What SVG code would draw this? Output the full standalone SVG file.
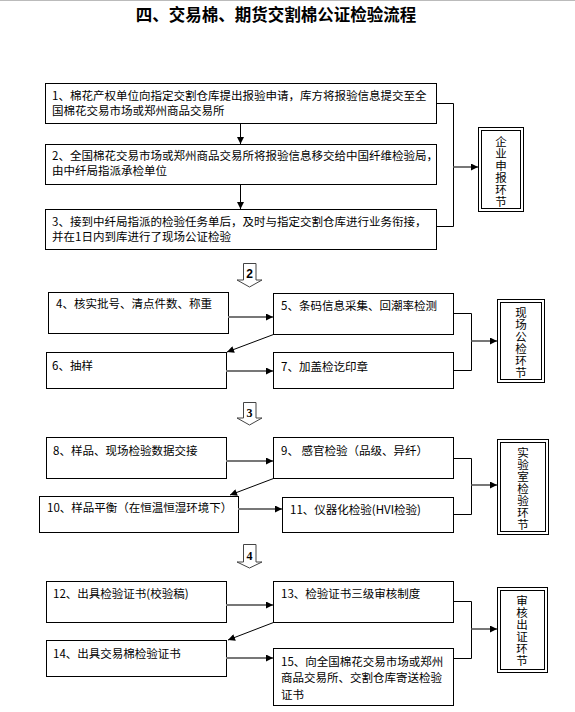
<svg xmlns="http://www.w3.org/2000/svg" width="575" height="712" viewBox="0 0 575 712">
<defs>
<style>
.box{fill:#fff;stroke:#000;stroke-width:1}
.t{font-family:"Noto Sans CJK SC","Liberation Sans",sans-serif;font-size:11.5px;fill:#000}
.v{font-family:"Noto Sans CJK SC","Liberation Sans",sans-serif;font-size:11.5px;fill:#000;text-anchor:middle}
.title{font-family:"Noto Sans CJK SC","Liberation Sans",sans-serif;font-size:16.5px;font-weight:bold;fill:#000;text-anchor:middle}
.g{fill:none;stroke:#777;stroke-width:2}
.k{fill:none;stroke:#000;stroke-width:1}
.blk{fill:#fff;stroke:#444;stroke-width:1}
.num{font-weight:bold;font-size:12px;fill:#000;text-anchor:middle}
</style>
<marker id="ah" viewBox="0 0 8 8" refX="8" refY="4" markerWidth="8" markerHeight="7" markerUnits="userSpaceOnUse" orient="auto">
<path d="M0,0 L8,4 L0,8 z" fill="#000"/>
</marker>
</defs>
<line x1="0" y1="0.5" x2="575" y2="0.5" stroke="#bbb" stroke-width="1"/>
<text class="title" x="276" y="20.5">四、交易棉、期货交割棉公证检验流程</text>

<g id="n1"><rect class="box" x="45.5" y="83.5" width="391" height="40"/><text class="t" x="52" y="99.5">1、棉花产权单位向指定交割仓库提出报验申请，库方将报验信息提交至全</text><text class="t" x="52" y="114.5">国棉花交易市场或郑州商品交易所</text></g>
<g id="n2"><rect class="box" x="45.5" y="144.5" width="391" height="40"/><text class="t" x="52" y="159.5">2、全国棉花交易市场或郑州商品交易所将报验信息移交给中国纤维检验局，</text><text class="t" x="52" y="174.5">由中纤局指派承检单位</text></g>
<g id="n3"><rect class="box" x="45.5" y="209.5" width="391" height="40"/><text class="t" x="52" y="225.5">3、接到中纤局指派的检验任务单后，及时与指定交割仓库进行业务衔接，</text><text class="t" x="52" y="240.5">并在1日内到库进行了现场公证检验</text></g>
<g id="s1"><rect class="box" x="478.5" y="127.5" width="45" height="84"/><rect class="box" x="481.5" y="130.5" width="39" height="78"/><text class="v"><tspan x="501" y="146">企</tspan><tspan x="501" dy="12">业</tspan><tspan x="501" dy="12">申</tspan><tspan x="501" dy="12">报</tspan><tspan x="501" dy="12">环</tspan><tspan x="501" dy="12">节</tspan></text></g>

<g id="a2"><polygon class="blk" points="243.5,263.5 256,263.5 256,280 262,280 249.5,287 237,280 243.5,280"/><text class="num" x="249.5" y="278" font-family="Liberation Sans, sans-serif">2</text></g>

<g id="n4"><rect class="box" x="48.5" y="292.5" width="180" height="41"/><text class="t" x="56" y="307.5">4、核实批号、清点件数、称重</text></g>
<g id="n5"><rect class="box" x="273.5" y="293.5" width="180" height="41"/><text class="t" x="281" y="309.5">5、条码信息采集、回潮率检测</text></g>
<g id="n6"><rect class="box" x="46.5" y="352.5" width="180" height="36"/><text class="t" x="52" y="369.5">6、抽样</text></g>
<g id="n7"><rect class="box" x="273.5" y="352.5" width="180" height="36"/><text class="t" x="281" y="370.5">7、加盖检讫印章</text></g>
<g id="s2"><rect class="box" x="497.5" y="299.5" width="47" height="83"/><rect class="box" x="500.5" y="302.5" width="41" height="77"/><text class="v"><tspan x="521" y="317">现</tspan><tspan x="521" dy="12">场</tspan><tspan x="521" dy="12">公</tspan><tspan x="521" dy="12">检</tspan><tspan x="521" dy="12">环</tspan><tspan x="521" dy="12">节</tspan></text></g>

<g id="a3"><polygon class="blk" points="243.5,402.5 256,402.5 256,418 262,418 249.5,425 237,418 243.5,418"/><text class="num" x="249.5" y="417" font-family="Liberation Serif, serif">3</text></g>

<g id="n8"><rect class="box" x="46.5" y="437.5" width="180" height="41"/><text class="t" x="53" y="454.5">8、样品、现场检验数据交接</text></g>
<g id="n9"><rect class="box" x="273.5" y="437.5" width="180" height="41"/><text class="t" x="281" y="454.5">9、  感官检验（品级、异纤）</text></g>
<g id="n10"><rect class="box" x="39.5" y="496.5" width="199" height="36"/><text class="t" x="47" y="511.5">10、样品平衡（在恒温恒湿环境下）</text></g>
<g id="n11"><rect class="box" x="282.5" y="497.5" width="171" height="35"/><text class="t" x="290" y="513.5">11、仪器化检验(HVI检验)</text></g>
<g id="s3"><rect class="box" x="497.5" y="439.5" width="51" height="95"/><rect class="box" x="500.5" y="442.5" width="45" height="89"/><text class="v"><tspan x="523" y="457">实</tspan><tspan x="523" dy="12">验</tspan><tspan x="523" dy="12">室</tspan><tspan x="523" dy="12">检</tspan><tspan x="523" dy="12">验</tspan><tspan x="523" dy="12">环</tspan><tspan x="523" dy="12">节</tspan></text></g>

<g id="a4"><polygon class="blk" points="243.5,544.5 256,544.5 256,562 262,562 249.5,568 237,562 243.5,562"/><text class="num" x="249.5" y="560" font-family="Liberation Serif, serif">4</text></g>

<g id="n12"><rect class="box" x="46.5" y="581.5" width="180" height="41"/><text class="t" x="53" y="597.5">12、出具检验证书(校验稿)</text></g>
<g id="n13"><rect class="box" x="273.5" y="581.5" width="180" height="41"/><text class="t" x="281" y="597.5">13、检验证书三级审核制度</text></g>
<g id="n14"><rect class="box" x="46.5" y="640.5" width="180" height="36"/><text class="t" x="53" y="657.5">14、出具交易棉检验证书</text></g>
<g id="n15"><rect class="box" x="273.5" y="648.5" width="180" height="57"/><text class="t" x="281" y="665.5">15、向全国棉花交易市场或郑州</text><text class="t" x="281" y="682">商品交易所、交割仓库寄送检验</text><text class="t" x="281" y="698.5">证书</text></g>
<g id="s4"><rect class="box" x="497.5" y="587.5" width="50" height="85"/><rect class="box" x="500.5" y="590.5" width="44" height="79"/><text class="v"><tspan x="522" y="605">审</tspan><tspan x="522" dy="12">核</tspan><tspan x="522" dy="12">出</tspan><tspan x="522" dy="12">证</tspan><tspan x="522" dy="12">环</tspan><tspan x="522" dy="12">节</tspan></text></g>

<g id="connectors">
<line class="k" x1="240.5" y1="124" x2="240.5" y2="144" marker-end="url(#ah)"/>
<line class="k" x1="240.5" y1="185" x2="240.5" y2="209" marker-end="url(#ah)"/>
<polyline class="k" points="437,103.5 453.5,103.5 453.5,226.5 437,226.5"/>
<line class="g" x1="453.5" y1="167" x2="478" y2="167" marker-end="url(#ah)"/>

<line class="g" x1="228" y1="317" x2="273" y2="317" marker-end="url(#ah)"/>
<line class="k" x1="273.5" y1="334.5" x2="227" y2="352" marker-end="url(#ah)"/>
<line class="g" x1="226" y1="371" x2="273" y2="371" marker-end="url(#ah)"/>
<polyline class="k" points="454,313.5 471.5,313.5 471.5,370.5 454,370.5"/>
<line class="g" x1="471.5" y1="341" x2="497" y2="341" marker-end="url(#ah)"/>

<line class="g" x1="226" y1="461" x2="273" y2="461" marker-end="url(#ah)"/>
<line class="k" x1="273.5" y1="478.5" x2="230" y2="495" marker-end="url(#ah)"/>
<line class="g" x1="238" y1="509" x2="282" y2="509" marker-end="url(#ah)"/>
<polyline class="k" points="454,458.5 471.5,458.5 471.5,514.5 454,514.5"/>
<line class="g" x1="471.5" y1="485" x2="497" y2="485" marker-end="url(#ah)"/>

<line class="g" x1="226" y1="605" x2="273" y2="605" marker-end="url(#ah)"/>
<line class="k" x1="273.5" y1="622.5" x2="228" y2="640" marker-end="url(#ah)"/>
<line class="g" x1="226" y1="658" x2="273" y2="658" marker-end="url(#ah)"/>
<polyline class="k" points="454,601.5 471.5,601.5 471.5,658.5 454,658.5"/>
<line class="g" x1="471.5" y1="629" x2="497" y2="629" marker-end="url(#ah)"/>
</g>
</svg>
